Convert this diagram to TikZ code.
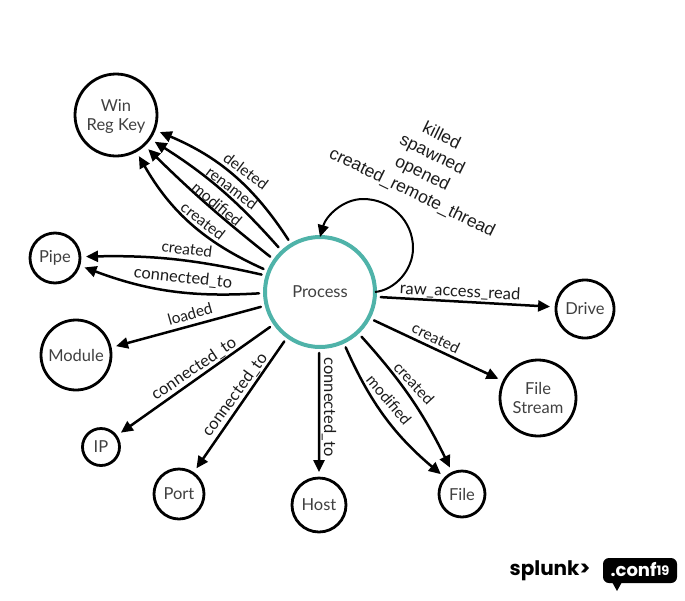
\documentclass[tikz,border=0pt]{standalone}
\usepackage{fontspec}
\setmainfont{Lato}
\newfontfamily\helv{Liberation Sans}
\newfontfamily\logofont{Poppins}
\usetikzlibrary{arrows.meta}
\definecolor{teal1}{HTML}{4FB3A9}
\definecolor{ink}{HTML}{404040}
\definecolor{lab}{HTML}{1C1C1C}
\tikzset{
  x=1pt,y=-1pt,
  ent/.style={circle,draw=black,line width=2.8pt,inner sep=0pt,outer sep=0pt,fill=white,
    text=ink,align=center,font=\fontsize{16.5}{19}\selectfont},
  proc/.style={ent,draw=teal1,line width=4pt},
  edge/.style={draw=black,line width=2.5pt,line cap=round,shorten <=6pt,shorten >=6pt,
    -{Triangle[length=12pt,width=11pt]}},
  elab/.style={text=lab,inner sep=0pt,font=\fontsize{15.5}{18}\selectfont},
  elabwide/.style={text=lab,inner sep=0pt,font=\fontsize{16.5}{18}\selectfont},
  selflab/.style={text=lab,inner sep=0pt,rotate=-26,font=\helv\fontsize{17.5}{19}\selectfont},
}
\begin{document}
\begin{tikzpicture}
\useasboundingbox (0,0) rectangle (685,600);
% nodes
\node[proc,minimum size=110pt] (process) at (320,292) {Process};
\node[ent,minimum size=82pt] (win) at (116,115) {\rule{0pt}{16pt}Win\\Reg Key};
\node[ent,minimum size=50pt] (pipe) at (55,258) {Pipe};
\node[ent,minimum size=70pt] (module) at (76,355) {Module};
\node[ent,minimum size=37pt] (ip) at (101,447) {IP};
\node[ent,minimum size=50pt] (port) at (179,494) {Port};
\node[ent,minimum size=54pt] (host) at (319,505) {Host};
\node[ent,minimum size=46pt] (file) at (462,494) {File};
\node[ent,minimum size=76pt] (stream) at (538,398) {File\\Stream};
\node[ent,minimum size=58pt] (drive) at (585,309) {Drive};
% connectors
\draw[edge] (process.121) to[bend right=17] (win.-21);
\draw[edge] (process.133) to[bend right=8] (win.-35);
\draw[edge] (process.145.5) to[bend left=3] (win.-47.6);
\draw[edge] (process.158.4) to[bend left=18] (win.-61.3);
\draw[edge] (process.163.7) to[bend right=7] (pipe.3.7);
\draw[edge] (process.181.8) to[bend left=12] (pipe.-17.2);
\draw[edge] (process.194.3) -- (module.12.7);
\draw[edge] (process.215.2) -- (ip.36.9);
\draw[edge] (process.234.2) -- (port.56.8);
\draw[edge] (process.269) -- (host.90);
\draw[edge] (process.313.7) to[bend left=8] (file.114.8);
\draw[edge] (process.295.3) to[bend right=13] (file.136.4);
\draw[edge] (process.332.6) -- (stream.154);
\draw[edge] (process.355) -- (drive.176.7);
\coordinate (loopE) at (413,248);
\coordinate (loopN) at (363,199);
\draw[draw=black,line width=2pt,-{Triangle[length=12pt,width=11pt]}]
  (process.0) .. controls (395,290) and (413,270) .. (loopE)
  .. controls (413,221) and (391,199) .. (loopN)
  .. controls (343,199) and (326,216) .. (process.90);
% labels
\node[elab,rotate=-37] (l1) at (246,171) {deleted};
\node[elab,rotate=-37] (l2) at (232,188) {renamed};
\node[elab,rotate=-40] (l3) at (217,204) {modified};
\node[elab,rotate=-38] (l4) at (203,221) {created};
\node[elab,rotate=-7] (l5) at (187,249) {created};
\node[elabwide,rotate=-6] (l6) at (183,278) {connected\_to};
\node[elab,rotate=16] (l7) at (190,314) {loaded};
\node[elabwide,rotate=34] (l8) at (194,369) {connected\_to};
\node[elabwide,rotate=54] (l9) at (235,395) {connected\_to};
\node[elabwide,rotate=-90] (l10) at (329,407) {connected\_to};
\node[elabwide,rotate=-3] (l11) at (460,292) {raw\_access\_read};
\node[elab,rotate=-26] (l12) at (436,338) {created};
\node[elab,rotate=-47] (l13) at (414,383) {created};
\node[elab,rotate=-50] (l14) at (389,400) {modified};
\node[selflab] (s1) at (442,135) {killed};
\node[selflab] (s2) at (432,155) {spawned};
\node[selflab] (s3) at (422,174) {opened};
\node[selflab] (s4) at (412,193) {created\_remote\_thread};
% logo
\node[inner sep=0pt,text=black,font=\logofont\bfseries\fontsize{20}{22}\selectfont] (splunk) at (550,571) {splunk>};
\fill[black,rounded corners=6pt] (603,558) rectangle (677,583);
\fill[black] (612,582) -- (622,582) -- (617,591) -- cycle;
\node[inner sep=0pt,text=white,font=\logofont\bfseries\fontsize{18}{20}\selectfont] (conf) at (640,570) {.conf\raisebox{1pt}{\fontsize{13}{14}\selectfont 19}};
\end{tikzpicture}
\end{document}
